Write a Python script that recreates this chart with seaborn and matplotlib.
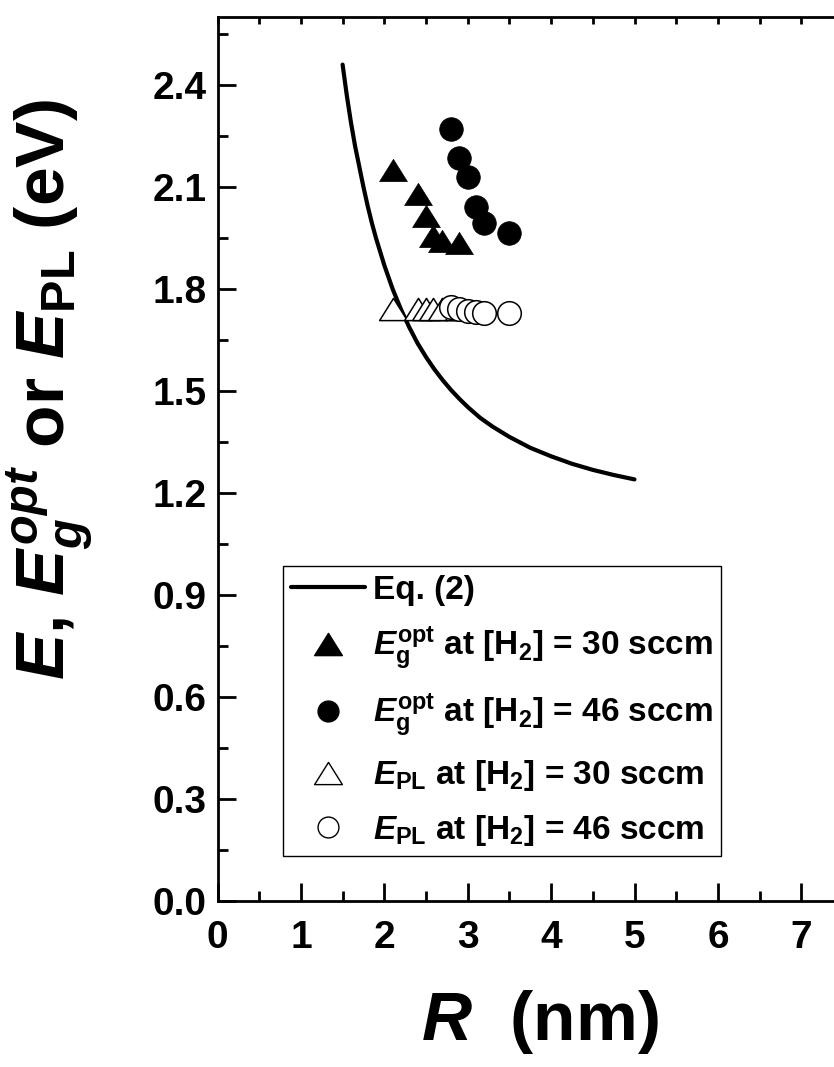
import matplotlib
matplotlib.use('Agg')
import matplotlib.pyplot as plt
import seaborn as sns
from matplotlib.path import Path
from matplotlib.ticker import MultipleLocator
from matplotlib.lines import Line2D

# ---- data ----
R_curve = [1.50, 1.55, 1.60, 1.65, 1.70, 1.75, 1.80, 1.85, 1.90, 1.95, 2.00,
           2.10, 2.20, 2.30, 2.40, 2.50, 2.60, 2.70, 2.80, 2.90, 3.00,
           3.15, 3.30, 3.50, 3.75, 4.00, 4.25, 4.50, 4.75, 5.00]
E_curve = [2.46, 2.37, 2.29, 2.22, 2.16, 2.10, 2.045, 1.995, 1.95, 1.91, 1.87,
           1.80, 1.74, 1.687, 1.64, 1.60, 1.564, 1.532, 1.503, 1.477, 1.453,
           1.421, 1.395, 1.365, 1.333, 1.308, 1.286, 1.268, 1.253, 1.240]

R_30 = [2.10, 2.40, 2.50, 2.58, 2.69, 2.90]
Eg_30 = [2.15, 2.08, 2.015, 1.955, 1.94, 1.935]
Epl_30 = [1.74, 1.74, 1.74, 1.74, 1.74, 1.74]

R_46 = [2.80, 2.90, 3.00, 3.10, 3.20, 3.50]
Eg_46 = [2.27, 2.185, 2.13, 2.04, 1.995, 1.965]
Epl_46 = [1.748, 1.740, 1.736, 1.732, 1.730, 1.729]

labels = ['Eq. (2)',
          r'$E_{\mathrm{g}}^{\mathrm{opt}}$ at [H$_{\mathrm{2}}$] = 30 sccm',
          r'$E_{\mathrm{g}}^{\mathrm{opt}}$ at [H$_{\mathrm{2}}$] = 46 sccm',
          r'$E_{\mathrm{PL}}$ at [H$_{\mathrm{2}}$] = 30 sccm',
          r'$E_{\mathrm{PL}}$ at [H$_{\mathrm{2}}$] = 46 sccm']
x_ticks = [0, 1, 2, 3, 4, 5, 6, 7]
y_ticks = [0.0, 0.3, 0.6, 0.9, 1.2, 1.5, 1.8, 2.1, 2.4]

# ---- style ----
sns.set_theme(style='ticks')
plt.rcParams['font.family'] = ['Liberation Sans', 'DejaVu Sans']
plt.rcParams['font.weight'] = 'bold'
plt.rcParams['mathtext.fontset'] = 'custom'
plt.rcParams['mathtext.rm'] = 'Liberation Sans:bold'
plt.rcParams['mathtext.bf'] = 'Liberation Sans:bold'
plt.rcParams['mathtext.it'] = 'Liberation Sans:bold:italic'
plt.rcParams['mathtext.sf'] = 'Liberation Sans:bold'
for key in ['text.color', 'axes.labelcolor', 'xtick.color', 'ytick.color',
            'axes.edgecolor']:
    plt.rcParams[key] = 'black'

tri = Path([(-1.0, -0.8), (1.0, -0.8), (0.0, 0.8), (-1.0, -0.8)],
           [Path.MOVETO, Path.LINETO, Path.LINETO, Path.CLOSEPOLY])

fig = plt.figure(figsize=(8.34, 10.67), dpi=100)
ax = fig.add_axes([217.5 / 834, 1 - 901 / 1067, 667.2 / 834, 884 / 1067])

sns.lineplot(x=R_curve, y=E_curve, ax=ax, color='black', linewidth=3.0,
             sort=False, estimator=None, legend=False)
sns.scatterplot(x=R_30, y=Epl_30, ax=ax, marker=tri, s=20**2, color='white',
                edgecolor='black', linewidth=1.1, legend=False, zorder=3)
sns.scatterplot(x=R_46, y=Epl_46, ax=ax, marker='o', s=17**2, color='white',
                edgecolor='black', linewidth=1.1, legend=False, zorder=3)
sns.scatterplot(x=R_30, y=Eg_30, ax=ax, marker=tri, s=20**2, color='black',
                edgecolor='black', linewidth=0.5, legend=False, zorder=4)
sns.scatterplot(x=R_46, y=Eg_46, ax=ax, marker='o', s=17**2, color='black',
                edgecolor='black', linewidth=0.5, legend=False, zorder=4)

ax.set_xlim(0, 8)
ax.set_ylim(0, 2.6)
ax.set_xticks(x_ticks)
ax.set_yticks(y_ticks)
ax.set_xticklabels([str(v) for v in x_ticks])
ax.set_yticklabels([f'{v:.1f}' for v in y_ticks])
ax.xaxis.set_minor_locator(MultipleLocator(0.5))
ax.yaxis.set_minor_locator(MultipleLocator(0.15))
ax.tick_params(axis='both', which='major', direction='in', length=13, width=2,
               labelsize=28, color='black', labelcolor='black', pad=8)
ax.tick_params(axis='x', which='major', pad=14)
ax.tick_params(axis='both', which='minor', direction='in', length=7, width=2,
               color='black')
ax.tick_params(axis='x', which='both', top=True, labeltop=False)
for s in ax.spines.values():
    s.set_linewidth(2)
    s.set_color('black')
for t in ax.get_xticklabels() + ax.get_yticklabels():
    t.set_fontweight('bold')

# top ticks shorter
for tl in ax.xaxis.get_major_ticks() + ax.xaxis.get_minor_ticks():
    tl.tick2line.set_markersize(5)

# legend
handles = [
    Line2D([], [], color='black', lw=3.0),
    Line2D([], [], marker=tri, color='black', ls='none', markersize=20),
    Line2D([], [], marker='o', color='black', ls='none', markersize=15),
    Line2D([], [], marker=tri, markerfacecolor='white', markeredgecolor='black',
           ls='none', markersize=20, markeredgewidth=1.0),
    Line2D([], [], marker='o', markerfacecolor='white', markeredgecolor='black',
           ls='none', markersize=15, markeredgewidth=1.0),
]
leg = ax.legend(handles, labels, loc='lower left', bbox_to_anchor=(0.098, 0.051),
                frameon=True, fancybox=False, framealpha=1, edgecolor='black',
                prop={'size': 24, 'weight': 'bold'}, handlelength=2.2,
                handletextpad=0.25, borderpad=0.25, labelspacing=0.58,
                borderaxespad=0)
leg.get_frame().set_linewidth(1.0)
for t in leg.get_texts():
    t.set_color('black')

fig.text(50 / 834, 1 - 390 / 1067, r'$E$, $E_{g}^{opt}$ or $E_{\mathrm{PL}}$ (eV)',
         rotation=90, ha='center', va='center', fontsize=50, fontweight='bold',
         color='black')
fig.text(540 / 834, 1 - 1022 / 1067, r'$R$  (nm)', ha='center', va='center',
         fontsize=50, fontweight='bold', color='black')

fig.savefig('out.png', dpi=100)
